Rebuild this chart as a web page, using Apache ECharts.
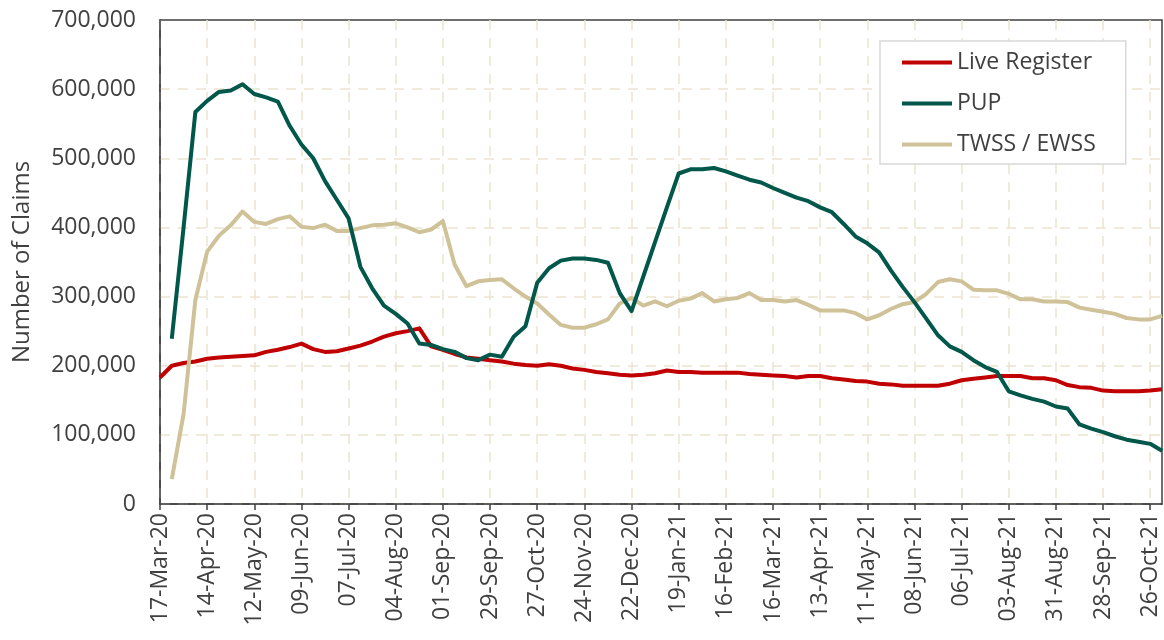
<!DOCTYPE html>
<html>
<head>
<meta charset="utf-8">
<script src="https://cdn.jsdelivr.net/npm/echarts@6/dist/echarts.min.js"></script>
<style>
  html, body { margin: 0; padding: 0; background: #fff; }
  #chart { width: 1164px; height: 640px; }
</style>
</head>
<body>
<div id="chart"></div>
<script>
var weeks = [
  '17-Mar-20', '24-Mar-20', '31-Mar-20', '07-Apr-20', '14-Apr-20', '21-Apr-20', '28-Apr-20',
  '05-May-20', '12-May-20', '19-May-20', '26-May-20', '02-Jun-20', '09-Jun-20', '16-Jun-20',
  '23-Jun-20', '30-Jun-20', '07-Jul-20', '14-Jul-20', '21-Jul-20', '28-Jul-20', '04-Aug-20',
  '11-Aug-20', '18-Aug-20', '25-Aug-20', '01-Sep-20', '08-Sep-20', '15-Sep-20', '22-Sep-20',
  '29-Sep-20', '06-Oct-20', '13-Oct-20', '20-Oct-20', '27-Oct-20', '03-Nov-20', '10-Nov-20',
  '17-Nov-20', '24-Nov-20', '01-Dec-20', '08-Dec-20', '15-Dec-20', '22-Dec-20', '29-Dec-20',
  '05-Jan-21', '12-Jan-21', '19-Jan-21', '26-Jan-21', '02-Feb-21', '09-Feb-21', '16-Feb-21',
  '23-Feb-21', '02-Mar-21', '09-Mar-21', '16-Mar-21', '23-Mar-21', '30-Mar-21', '06-Apr-21',
  '13-Apr-21', '20-Apr-21', '27-Apr-21', '04-May-21', '11-May-21', '18-May-21', '25-May-21',
  '01-Jun-21', '08-Jun-21', '15-Jun-21', '22-Jun-21', '29-Jun-21', '06-Jul-21', '13-Jul-21',
  '20-Jul-21', '27-Jul-21', '03-Aug-21', '10-Aug-21', '17-Aug-21', '24-Aug-21', '31-Aug-21',
  '07-Sep-21', '14-Sep-21', '21-Sep-21', '28-Sep-21', '05-Oct-21', '12-Oct-21', '19-Oct-21',
  '26-Oct-21', '02-Nov-21'
];

// claims, in thousands
var liveRegister = [
  183, 200, 204, 206, 210, 212, 213, 214, 215, 220, 223, 227, 232, 224, 220, 221, 225, 229,
  235, 242, 247, 250, 254, 228, 223, 217, 212, 210, 208, 206, 203, 201, 200, 202, 200, 196,
  194, 191, 189, 187, 186, 187, 189, 193, 191, 191, 190, 190, 190, 190, 188, 187, 186, 185,
  183, 185, 185, 182, 180, 178, 177, 174, 173, 171, 171, 171, 171, 174, 179, 181, 183, 185,
  185, 185, 182, 182, 179, 172, 169, 168, 164, 163, 163, 163, 164, 166
];

var pup = [
  null, 239, 400, 567, 583, 596, 598, 607, 593, 588, 582, 547, 520, 500, 467, 440, 413, 343,
  312, 287, 275, 261, 232, 230, 224, 220, 211, 208, 216, 213, 242, 257, 320, 341, 352, 355,
  355, 353, 349, 305, 279, 329, 379, 429, 478, 484, 484, 486, 481, 475, 469, 465, 457, 450,
  443, 438, 429, 422, 405, 387, 377, 364, 338, 314, 292, 268, 244, 228, 220, 208, 198, 191,
  163, 157, 152, 148, 141, 138, 115, 109, 104, 98, 93, 90, 87, 77
];

var twssEwss = [
  null, 36, 130, 295, 365, 388, 403, 423, 408, 405, 412, 416, 401, 399, 404, 395, 395, 399,
  403, 404, 406, 400, 393, 397, 409, 346, 315, 322, 324, 325, 312, 300, 290, 274, 259, 255,
  255, 260, 267, 290, 298, 287, 293, 286, 294, 297, 305, 293, 296, 298, 305, 295, 295, 293,
  295, 288, 280, 280, 280, 276, 267, 273, 282, 289, 292, 304, 321, 325, 322, 310, 309, 309,
  304, 296, 296, 293, 293, 292, 284, 281, 278, 275, 269, 267, 267, 272
];

var FONT = 'Open Sans';
var TEXT = '#404040';
var AXIS = '#404040';
var GRID = '#ece3d0';

function toClaims(arr) {
  return arr.map(function (v) { return v == null ? null : v * 1000; });
}

function lineSeries(name, data, color, z) {
  return {
    name: name,
    type: 'line',
    data: toClaims(data),
    showSymbol: false,
    symbol: 'none',
    z: z,
    lineStyle: { color: color, width: 4, join: 'round' },
    itemStyle: { color: color }
  };
}

var chart = echarts.init(document.getElementById('chart'), null, { renderer: 'canvas' });

var option = {
  animation: false,
  backgroundColor: '#fff',
  textStyle: { fontFamily: FONT, color: TEXT },
  grid: {
    left: 160, right: 2, top: 20, bottom: 136,
    show: true, borderColor: AXIS, borderWidth: 1.5, backgroundColor: 'transparent'
  },
  legend: {
    orient: 'vertical',
    left: 880, top: 41,
    data: ['Live Register', 'PUP', 'TWSS / EWSS'],
    icon: 'rect',
    itemWidth: 50, itemHeight: 4,
    itemGap: 18,
    padding: [10, 30, 8, 22],
    borderColor: '#d9d9d9', borderWidth: 1.5,
    backgroundColor: '#fff',
    textStyle: { fontFamily: FONT, fontSize: 23, color: TEXT }
  },
  xAxis: {
    type: 'category',
    data: weeks,
    boundaryGap: false,
    axisLine: { lineStyle: { color: AXIS, width: 1.5 } },
    axisTick: { interval: 3, length: 6, lineStyle: { color: AXIS, width: 1.5 } },
    axisLabel: { interval: 3, rotate: 90, margin: 9, fontFamily: FONT, fontSize: 23, color: TEXT },
    splitLine: { show: true, interval: 3, lineStyle: { color: GRID, type: [10, 8], width: 1.5 } }
  },
  yAxis: {
    type: 'value',
    min: 0, max: 700000, interval: 100000,
    name: 'Number of Claims',
    nameLocation: 'middle',
    nameGap: 126,
    nameTextStyle: { fontFamily: FONT, fontSize: 24, color: TEXT },
    axisLine: { show: true, lineStyle: { color: AXIS, width: 1.5 } },
    axisTick: { show: false },
    axisLabel: {
      margin: 24, fontFamily: FONT, fontSize: 23, color: TEXT,
      formatter: function (v) { return v.toLocaleString('en-US'); }
    },
    splitLine: { show: true, showMaxLine: false, lineStyle: { color: GRID, type: [10, 8], width: 1.5 } }
  },
  series: [
    lineSeries('Live Register', liveRegister, '#c00000', 3),
    lineSeries('PUP', pup, '#00574a', 5),
    lineSeries('TWSS / EWSS', twssEwss, '#cfc198', 4)
  ]
};

chart.setOption(option);
</script>
</body>
</html>
